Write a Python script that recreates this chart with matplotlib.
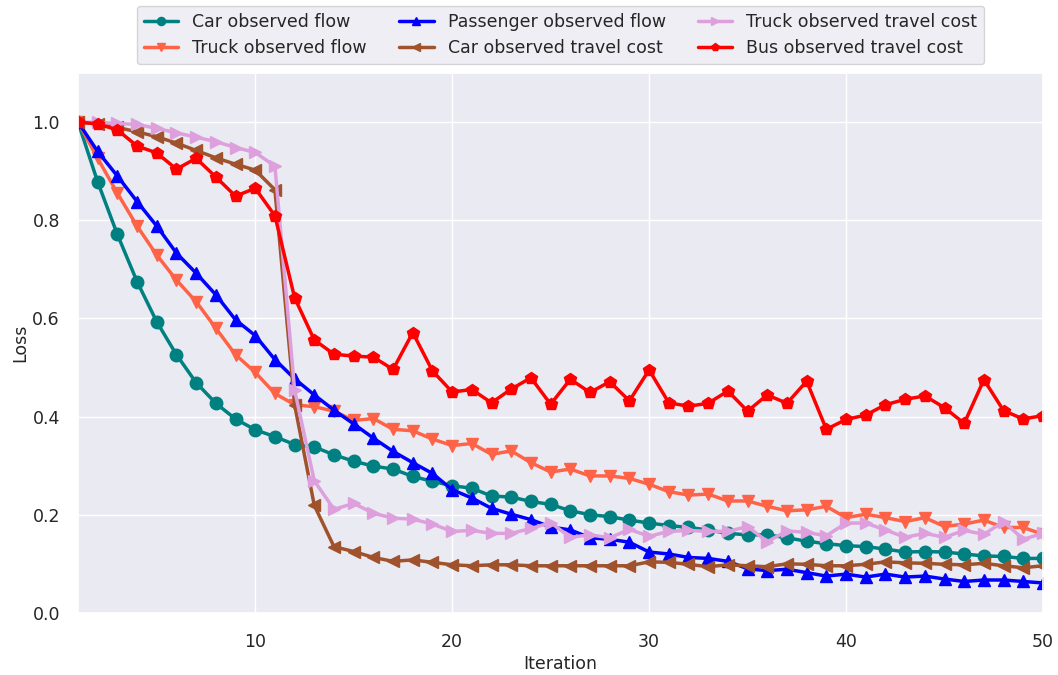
import numpy as np
import matplotlib
matplotlib.use("Agg")
import matplotlib.pyplot as plt
import seaborn as sns

# --- data ---
iterations = np.arange(1, 51)

car_flow = [1.0, 0.878, 0.771, 0.675, 0.593, 0.526, 0.469, 0.427, 0.395, 0.373,
            0.359, 0.343, 0.338, 0.322, 0.309, 0.299, 0.293, 0.278, 0.268, 0.259,
            0.254, 0.238, 0.236, 0.227, 0.221, 0.208, 0.200, 0.196, 0.189, 0.183,
            0.178, 0.174, 0.169, 0.162, 0.159, 0.159, 0.153, 0.146, 0.141, 0.137,
            0.135, 0.130, 0.124, 0.125, 0.124, 0.120, 0.116, 0.115, 0.111, 0.111]

truck_flow = [1.0, 0.926, 0.855, 0.788, 0.729, 0.678, 0.634, 0.580, 0.526, 0.490,
              0.447, 0.424, 0.420, 0.411, 0.392, 0.396, 0.374, 0.371, 0.354, 0.341,
              0.345, 0.323, 0.330, 0.306, 0.287, 0.293, 0.279, 0.279, 0.274, 0.262,
              0.247, 0.240, 0.242, 0.228, 0.228, 0.217, 0.208, 0.210, 0.217, 0.194,
              0.201, 0.194, 0.186, 0.194, 0.176, 0.181, 0.189, 0.174, 0.174, 0.160]

passenger_flow = [1.0, 0.940, 0.890, 0.838, 0.788, 0.733, 0.692, 0.648, 0.597, 0.565,
                  0.516, 0.477, 0.444, 0.413, 0.385, 0.356, 0.329, 0.306, 0.284, 0.251,
                  0.234, 0.213, 0.201, 0.190, 0.175, 0.169, 0.153, 0.150, 0.144, 0.124,
                  0.120, 0.113, 0.111, 0.105, 0.090, 0.086, 0.089, 0.082, 0.075, 0.079,
                  0.073, 0.079, 0.073, 0.075, 0.069, 0.064, 0.067, 0.067, 0.064, 0.061]

car_cost = [1.0, 0.996, 0.989, 0.980, 0.970, 0.957, 0.942, 0.927, 0.914, 0.902,
            0.862, 0.424, 0.219, 0.135, 0.125, 0.113, 0.105, 0.108, 0.103, 0.098,
            0.096, 0.098, 0.098, 0.096, 0.096, 0.096, 0.096, 0.096, 0.096, 0.104,
            0.103, 0.099, 0.094, 0.098, 0.096, 0.094, 0.100, 0.099, 0.096, 0.096,
            0.099, 0.104, 0.102, 0.101, 0.099, 0.098, 0.101, 0.096, 0.092, 0.096]

truck_cost = [1.0, 0.999, 0.997, 0.995, 0.987, 0.978, 0.969, 0.960, 0.948, 0.938,
              0.910, 0.454, 0.269, 0.211, 0.223, 0.203, 0.193, 0.191, 0.181, 0.166,
              0.168, 0.162, 0.162, 0.172, 0.184, 0.154, 0.159, 0.153, 0.170, 0.156,
              0.166, 0.168, 0.166, 0.166, 0.176, 0.145, 0.167, 0.164, 0.157, 0.183,
              0.183, 0.169, 0.154, 0.162, 0.154, 0.168, 0.160, 0.186, 0.150, 0.162]

bus_cost = [1.0, 0.996, 0.984, 0.951, 0.937, 0.904, 0.926, 0.888, 0.849, 0.865,
            0.809, 0.642, 0.556, 0.527, 0.523, 0.521, 0.496, 0.571, 0.493, 0.450,
            0.455, 0.428, 0.456, 0.479, 0.425, 0.476, 0.449, 0.471, 0.432, 0.495,
            0.428, 0.421, 0.427, 0.452, 0.411, 0.444, 0.427, 0.472, 0.374, 0.394,
            0.403, 0.424, 0.435, 0.442, 0.418, 0.386, 0.475, 0.412, 0.395, 0.402]

series = [
    ("Car observed flow", car_flow, "#008080", "o"),
    ("Truck observed flow", truck_flow, "#FF6347", "v"),
    ("Passenger observed flow", passenger_flow, "#0000FF", "^"),
    ("Car observed travel cost", car_cost, "#A0522D", "<"),
    ("Truck observed travel cost", truck_cost, "#DDA0DD", ">"),
    ("Bus observed travel cost", bus_cost, "#FF0000", "p"),
]

sns.set_theme(style="darkgrid")
plt.rcParams["font.family"] = ["DejaVu Sans"]

fig, ax = plt.subplots(figsize=(10.58, 6.75), dpi=100)
fig.subplots_adjust(left=0.0737, right=0.9858, top=0.892, bottom=0.092)

for label, vals, color, marker in series:
    ax.plot(iterations, vals, color=color, marker=marker, label=label,
            linewidth=2.5, markersize=9)

ax.set_xlim(1, 50)
ax.set_ylim(0, 1.1)
ax.set_xticks([10, 20, 30, 40, 50])
ax.set_yticks([0.0, 0.2, 0.4, 0.6, 0.8, 1.0])
ax.tick_params(axis="x", labelsize=12.5, pad=8.5)
ax.tick_params(axis="y", labelsize=12.5, pad=7)
ax.set_xlabel("Iteration", fontsize=12.5, labelpad=2.5)
ax.set_ylabel("Loss", fontsize=12.5, labelpad=2)

ax.legend(loc="lower center", bbox_to_anchor=(0.5, 1.0), ncol=3, fontsize=12.5,
          markerscale=0.65, borderaxespad=0.5, columnspacing=1.85)

fig.savefig("out.png", dpi=100)
